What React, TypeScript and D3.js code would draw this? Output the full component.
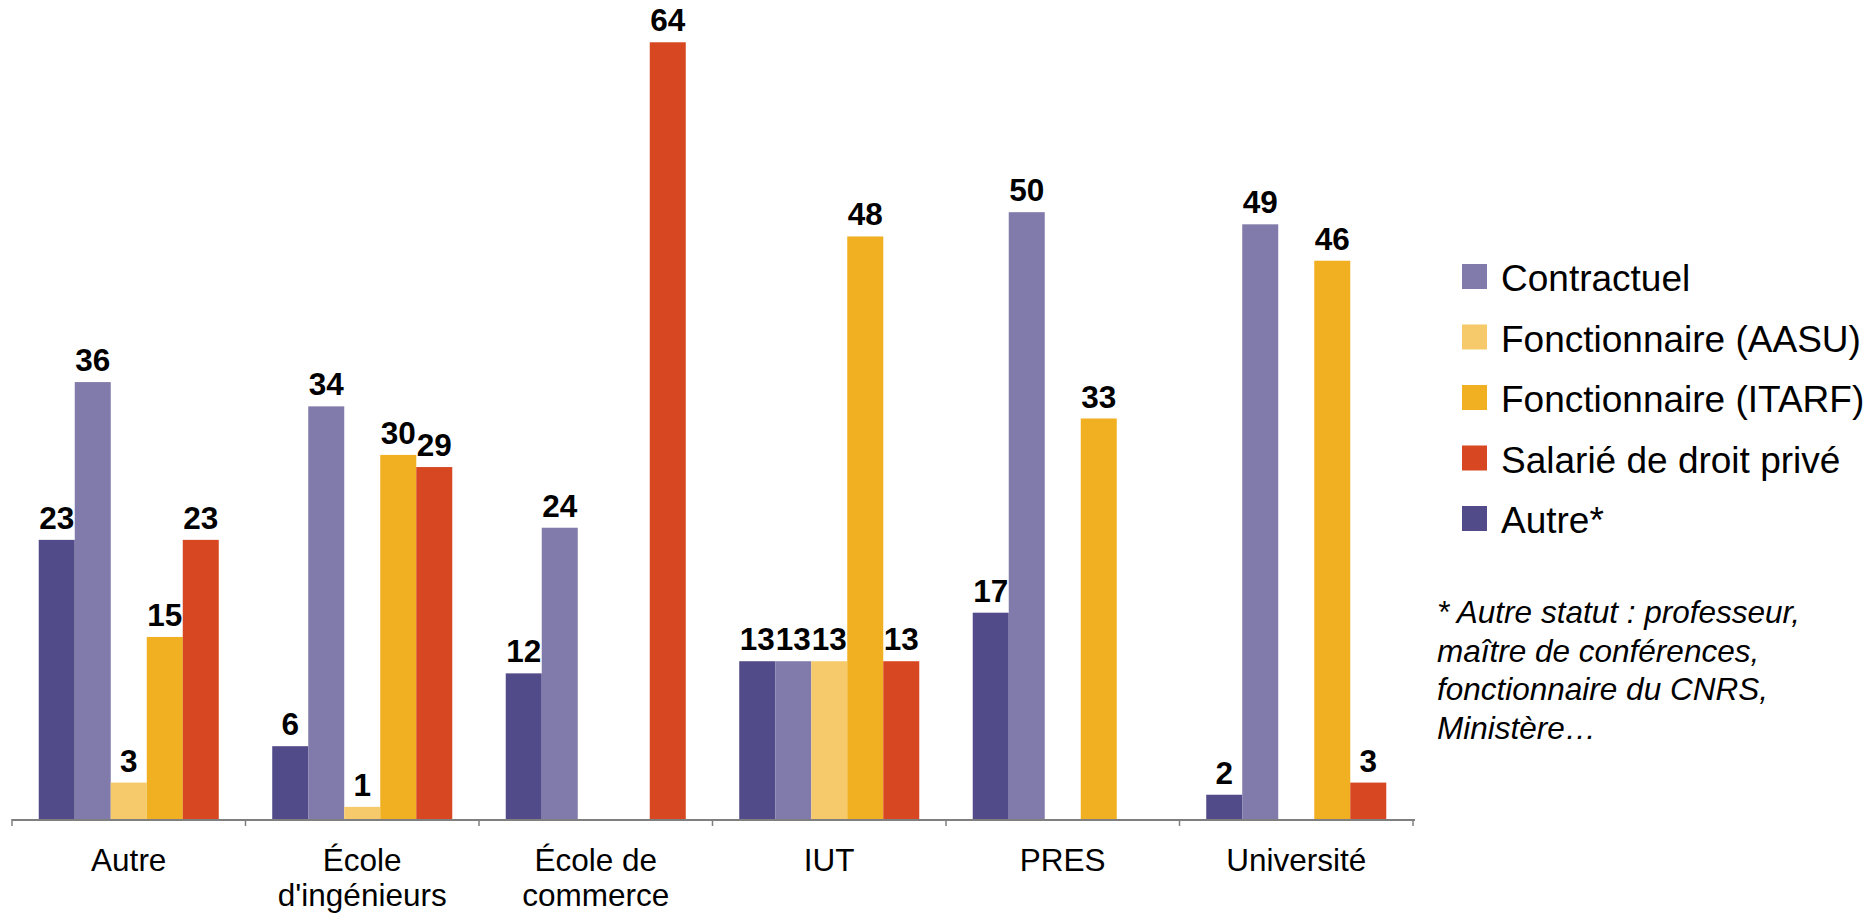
import React from "react";
import * as d3 from "d3";

const categories = ["Autre", "École d'ingénieurs", "École de commerce", "IUT", "PRES", "Université"];
const categoryLines = [["Autre"], ["École", "d'ingénieurs"], ["École de", "commerce"], ["IUT"], ["PRES"], ["Université"]];

// bar order inside a group
const series = ["Autre*", "Contractuel", "Fonctionnaire (AASU)", "Fonctionnaire (ITARF)", "Salarié de droit privé"];
const colors = ["#524b8a", "#807baa", "#f6ca6a", "#f0b022", "#d74822"];

// values per series, one per category (null = no bar)
const autreValues = [23, 6, 12, 13, 17, 2];
const contractuelValues = [36, 34, 24, 13, 50, 49];
const aasuValues = [3, 1, null, 13, null, null];
const itarfValues = [15, 30, null, 48, 33, 46];
const salarieValues = [23, 29, 64, 13, null, 3];
const values = [autreValues, contractuelValues, aasuValues, itarfValues, salarieValues];

// legend order differs from bar order
const legendOrder = [1, 2, 3, 4, 0];
const footnote = ["* Autre statut : professeur,", "maître de conférences,", "fonctionnaire du CNRS,", "Ministère…"];

const W = 1868;
const H = 913;
const left = 12;
const right = 1413;
const baseY = 819;

export default function App() {
  const x0 = d3.scaleBand().domain(categories).range([left, right]).paddingInner(0.229).paddingOuter(0.1145);
  const x1 = d3.scaleBand().domain(series).range([0, x0.bandwidth()]);
  const y = d3.scaleLinear().domain([0, 66]).range([baseY, 18]);
  const step = x0.step();
  const ticks = d3.range(categories.length + 1).map((i) => left + i * step);

  return (
    <svg width={W} height={H} style={{ position: "absolute", left: 0, top: 0, fontFamily: "'Liberation Sans', Arial, sans-serif" }}>
      {categories.map((cat, ci) => (
        <g key={cat} transform={`translate(${x0(cat)},0)`}>
          {series.map((s, si) => {
            const v = values[si][ci];
            if (v == null) return null;
            const bx = x1(s)!;
            return (
              <g key={s}>
                <rect x={bx} y={y(v)} width={x1.bandwidth()} height={baseY - y(v)} fill={colors[si]} />
                <text x={bx + x1.bandwidth() / 2} y={y(v) - 11} textAnchor="middle" fontSize={31.5} fontWeight="bold" fill="#000">
                  {v}
                </text>
              </g>
            );
          })}
          {categoryLines[ci].map((line, li) => (
            <text key={li} x={x0.bandwidth() / 2} y={871 + li * 35} textAnchor="middle" fontSize={31.5} fill="#000">
              {line}
            </text>
          ))}
        </g>
      ))}
      <line x1={left} x2={right + 2} y1={baseY + 1} y2={baseY + 1} stroke="#7f7f7f" strokeWidth={2} />
      {ticks.map((t, i) => (
        <line key={i} x1={t} x2={t} y1={baseY} y2={baseY + 7} stroke="#7f7f7f" strokeWidth={1.5} />
      ))}
      {legendOrder.map((si, i) => {
        const by = 291 + i * 60.5;
        return (
          <g key={si}>
            <rect x={1462} y={by - 27} width={25} height={25} fill={colors[si]} />
            <text x={1501} y={by} fontSize={37} fill="#000">
              {series[si]}
            </text>
          </g>
        );
      })}
      {footnote.map((line, i) => (
        <text key={i} x={1437} y={623 + i * 38.5} fontSize={31.5} fontStyle="italic" fill="#000">
          {line}
        </text>
      ))}
    </svg>
  );
}
